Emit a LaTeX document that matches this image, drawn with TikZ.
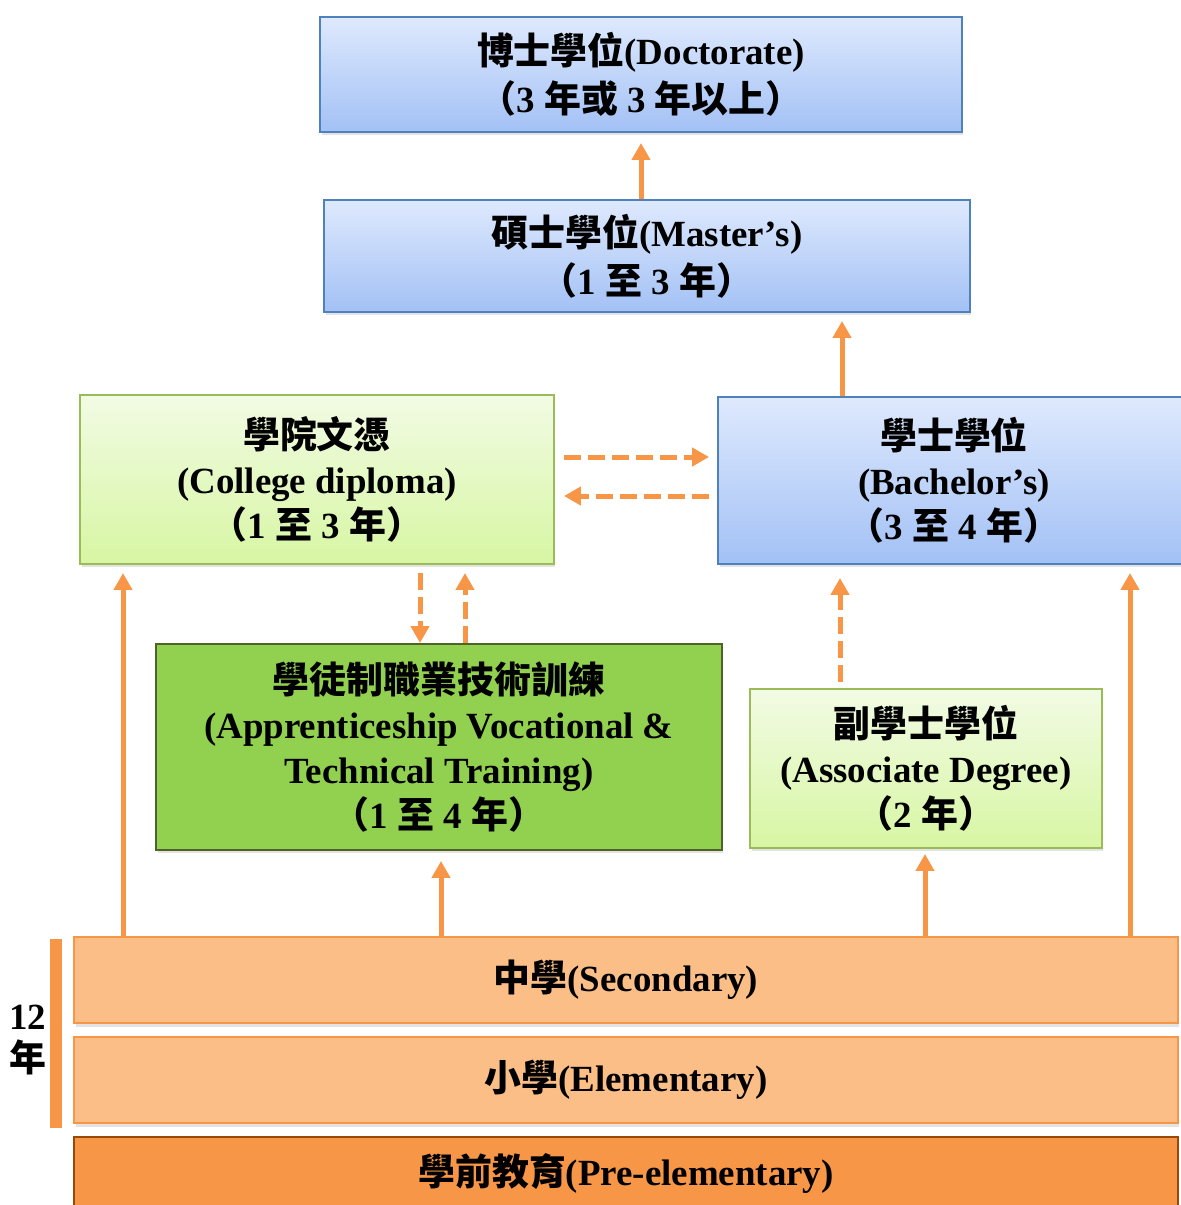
\documentclass[tikz,border=0pt]{standalone}
\usepackage{fontspec}
\setmainfont{Liberation Serif}
\newfontfamily\cjkfont{Noto Sans CJK TC}
\newcommand{\zh}[1]{{\cjkfont #1}}
\usetikzlibrary{arrows.meta,shadows}
\definecolor{arrorange}{RGB}{247,150,70}
\definecolor{bluetop}{RGB}{222,233,253}
\definecolor{bluebot}{RGB}{163,193,245}
\definecolor{blueline}{RGB}{79,129,189}
\definecolor{greentop}{RGB}{242,251,228}
\definecolor{greenbot}{RGB}{215,246,163}
\definecolor{greenline}{RGB}{155,187,89}
\definecolor{appfill}{RGB}{146,208,80}
\definecolor{appline}{RGB}{79,98,40}
\definecolor{schoolfill}{RGB}{251,190,135}
\definecolor{preline}{RGB}{152,72,7}
\tikzset{
	box/.style={draw, line width=0.04cm, align=center, inner sep=0pt,
		font=\bfseries\fontsize{21}{25.5}\selectfont,
		drop shadow={shadow xshift=0.03cm, shadow yshift=-0.07cm, opacity=0.22}},
	bluebox/.style={box, draw=blueline, top color=bluetop, bottom color=bluebot},
	greenbox/.style={box, draw=greenline, top color=greentop, bottom color=greenbot},
	appbox/.style={box, draw=appline, fill=appfill},
	schoolbox/.style={box, draw=arrorange, fill=schoolfill, minimum width=22.08cm, minimum height=1.72cm},
	prebox/.style={box, draw=preline, fill=arrorange, minimum width=22.08cm, minimum height=1.44cm},
	arr/.style={draw=arrorange, line width=0.1cm, -{Triangle[width=0.36cm,length=0.34cm]}},
	darr/.style={arr, dash pattern=on 0.34cm off 0.14cm},
}
\begin{document}
\begin{tikzpicture}[x=0.02cm, y=-0.02cm]
	\useasboundingbox (0,0) rectangle (1181,1205);
	\clip (0,0) rectangle (1181,1205);
	%
	\node[bluebox, minimum width=12.84cm, minimum height=2.3cm] (doc) at (641,74.5)
		{\zh{博士學位}(Doctorate)\\[2pt]\zh{（}3 \zh{年或} 3 \zh{年以上）}};
	\node[bluebox, minimum width=12.92cm, minimum height=2.24cm] (mas) at (647,256)
		{\zh{碩士學位}(Master’s)\\[2pt]\zh{（}1 \zh{至} 3 \zh{年）}};
	\node[greenbox, minimum width=9.48cm, minimum height=3.38cm] (col) at (317,479.5)
		{\zh{學院文憑}\\(College diploma)\\\zh{（}1 \zh{至} 3 \zh{年）}};
	\node[bluebox, minimum width=9.44cm, minimum height=3.34cm] (bac) at (954,480.5)
		{\zh{學士學位}\\(Bachelor’s)\\\zh{（}3 \zh{至} 4 \zh{年）}};
	\node[appbox, minimum width=11.32cm, minimum height=4.12cm] (app) at (439,747)
		{\zh{學徒制職業技術訓練}\\(Apprenticeship Vocational \&\\Technical Training)\\\zh{（}1 \zh{至} 4 \zh{年）}};
	\node[greenbox, minimum width=7.04cm, minimum height=3.18cm] (asc) at (926,768.5)
		{\zh{副學士學位}\\(Associate Degree)\\\zh{（}2 \zh{年）}};
	\node[schoolbox] (sec) at (626,980) {\zh{中學}(Secondary)};
	\node[schoolbox] (ele) at (626,1080) {\zh{小學}(Elementary)};
	\node[prebox] (pre) at (626,1173) {\zh{學前教育}(Pre-elementary)};
	%
	\fill[arrorange] (50,939) rectangle (62,1128);
	\node[align=center, inner sep=0pt, font=\bfseries\fontsize{21}{24}\selectfont] (yrs) at (28,1040) {12\\\zh{年}};
	%
	\coordinate (x1) at (123,0);
	\coordinate (x2) at (420,0);
	\coordinate (x3) at (465,0);
	\coordinate (x4) at (441,0);
	\coordinate (x5) at (840,0);
	\coordinate (x6) at (842,0);
	\coordinate (x7) at (925,0);
	\coordinate (x8) at (1130,0);
	\coordinate (y1) at (0,457);
	\coordinate (y2) at (0,496);
	%
	\draw[arr, shorten >=0.2cm] (mas.north -| doc.south) -- (doc.south);
	\draw[arr, shorten >=0.16cm] (bac.north -| x6) -- (mas.south -| x6);
	\draw[darr, shorten <=0.18cm, shorten >=0.16cm] (col.east |- y1) -- (bac.west |- y1);
	\draw[darr, shorten <=0.16cm, shorten >=0.18cm] (bac.west |- y2) -- (col.east |- y2);
	\draw[darr, shorten <=0.16cm] (col.south -| x2) -- (app.north -| x2);
	\draw[darr, shorten >=0.16cm] (app.north -| x3) -- (col.south -| x3);
	\draw[darr, shorten <=0.12cm, shorten >=0.26cm] (asc.north -| x5) -- (bac.south -| x5);
	%
	\draw[arr, shorten >=0.16cm] (sec.north -| x1) -- (col.south -| x1);
	\draw[arr, shorten >=0.2cm] (sec.north -| x4) -- (app.south -| x4);
	\draw[arr, shorten >=0.1cm] (sec.north -| x7) -- (asc.south -| x7);
	\draw[arr, shorten >=0.16cm] (sec.north -| x8) -- (bac.south -| x8);
\end{tikzpicture}
\end{document}
